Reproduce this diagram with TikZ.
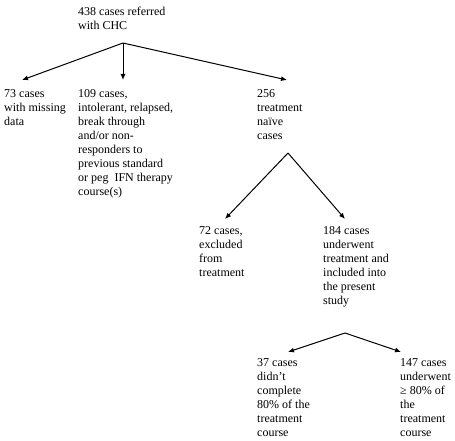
\documentclass[tikz,border=0pt]{standalone}
\usepackage{fontspec}
\setmainfont{Liberation Serif}
\usepackage{tikz}
\usetikzlibrary{arrows.meta}
\tikzset{
  caselbl/.style={anchor=north west, inner sep=0pt, align=left, font=\fontsize{12}{14}\selectfont},
  flow/.style={-{Latex[length=6pt,width=5pt]}, line width=1pt, black}
}

\begin{document}
\begin{tikzpicture}[x=1pt,y=-1pt]
            \useasboundingbox (0,0) rectangle (455,441);
            \node[caselbl] (cases) at (78,7) {438 cases referred\\with CHC};
            \node[caselbl] (missing) at (4,89) {73 cases\\with missing\\data};
            \node[caselbl] (previous) at (78,89) {109 cases,\\intolerant, relapsed,\\break through\\and/or non-\\responders to\\previous standard\\or peg\ \ IFN therapy\\course(s)};
            \node[caselbl] (naive) at (257,89) {256\\treatment\\naïve\\cases};
            \node[caselbl] (excluded) at (199,226) {72 cases,\\excluded\\from\\treatment};
            \node[caselbl] (treated) at (323,226) {184 cases\\underwent\\treatment and\\included into\\the present\\study};
            \node[caselbl] (incomplete) at (257,358) {37 cases\\didn’t\\complete\\80\% of the\\treatment\\course};
            \node[caselbl] (complete) at (400,358) {147 cases\\underwent\\≥ 80\% of\\the\\treatment\\course};
            \coordinate (forkA) at (123,43);
            \coordinate (forkB) at (288,153);
            \coordinate (forkC) at (345,333);
            \draw[flow] (forkA) -- ([xshift=18pt,yshift=9pt]missing.north west);
            \draw[flow] (forkA) -- ([xshift=45pt,yshift=9pt]previous.north west);
            \draw[flow] (forkA) -- ([xshift=30pt,yshift=9pt]naive.north west);
            \draw[flow] (forkB) -- ([xshift=26pt,yshift=7pt]excluded.north west);
            \draw[flow] (forkB) -- ([xshift=22pt,yshift=7pt]treated.north west);
            \draw[flow] (forkC) -- ([xshift=31pt,yshift=6pt]incomplete.north west);
            \draw[flow] (forkC) -- ([xshift=1pt,yshift=6pt]complete.north west);
        \end{tikzpicture}
\end{document}
